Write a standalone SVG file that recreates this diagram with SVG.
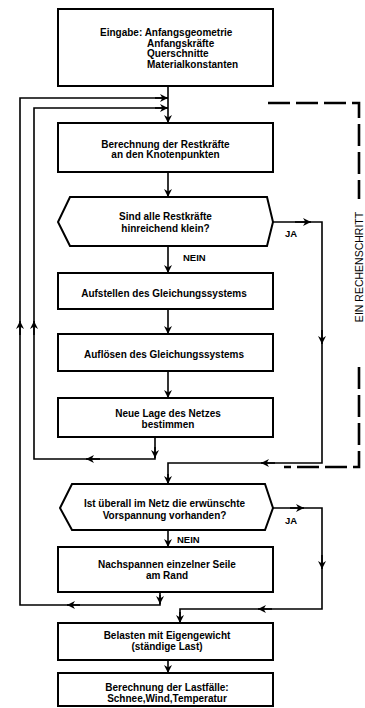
<svg xmlns="http://www.w3.org/2000/svg" width="365" height="708" viewBox="0 0 365 708">
<style>
.box{fill:#fff;stroke:#000;stroke-width:2}
.t{font-family:"Liberation Sans",Arial,sans-serif;font-size:10px;font-weight:bold;fill:#000;text-anchor:middle}
.tl{font-family:"Liberation Sans",Arial,sans-serif;font-size:10px;font-weight:bold;fill:#000}
.lbl{font-family:"Liberation Sans",Arial,sans-serif;font-size:9.5px;font-weight:bold;fill:#000}
.c{fill:none;stroke:#000;stroke-width:1.6}
.a{fill:none;stroke:#000;stroke-width:1.6;marker-end:url(#ah)}
.d{fill:none;stroke:#000;stroke-width:2.6;stroke-dasharray:22 6}
</style>
<defs>
<marker id="ah" markerUnits="userSpaceOnUse" viewBox="0 0 10 10" refX="10" refY="5" markerWidth="8" markerHeight="8" orient="auto">
<path d="M0,0 L10,5 L0,10 L3,5 z" fill="#000"/>
</marker>
</defs>
<rect width="365" height="708" fill="#fff"/>
<g id="connectors">
<path class="a" d="M168,86 V123"/>
<path class="c" d="M160,592 V605 H20 V98 H168"/>
<path class="a" d="M160,595 V604"/>
<path class="a" d="M80,605 H67"/>
<path class="a" d="M20,335 V321"/>
<path class="a" d="M155,98 H168"/>
<path class="c" d="M155,437 V459 H34 V108 H168"/>
<path class="a" d="M155,447 V458"/>
<path class="a" d="M100,459 H86"/>
<path class="a" d="M34,335 V321"/>
<path class="a" d="M155,108 H168"/>
<path class="a" d="M168,172 V197"/>
<path class="a" d="M168,246 V273"/>
<path class="a" d="M168,309 V334"/>
<path class="a" d="M168,371 V398"/>
<path class="c" d="M273,222 H322 V463 H168 V484"/>
<path class="a" d="M295,222 H311"/>
<path class="a" d="M322,330 V344"/>
<path class="a" d="M275,463 H261"/>
<path class="a" d="M168,474 V484"/>
<path class="a" d="M168,530 V547"/>
<path class="c" d="M273,508 H322 V609 H180 V623"/>
<path class="a" d="M290,508 H304"/>
<path class="a" d="M322,555 V569"/>
<path class="a" d="M272,609 H258"/>
<path class="a" d="M180,612 V623"/>
<path class="a" d="M168,660 V673"/>
</g>
<g id="dashed">
<path class="d" d="M268,103 H359 V199"/>
<path class="d" d="M359,367 V467 H284"/>
</g>
<g id="n1">
<rect class="box" x="58" y="9" width="215" height="77"/>
<text class="tl" x="100" y="36">Eingabe: Anfangsgeometrie</text>
<text class="tl" x="147" y="46.7">Anfangskräfte</text>
<text class="tl" x="147" y="57.3">Querschnitte</text>
<text class="tl" x="147" y="68">Materialkonstanten</text>
</g>
<g id="n2">
<rect class="box" x="58" y="123" width="215" height="49"/>
<text class="t" x="165.5" y="147.5">Berechnung der Restkräfte</text>
<text class="t" x="165.5" y="158">an den Knotenpunkten</text>
</g>
<g id="n3">
<polygon class="box" points="70,197 267,197 273,222 267,246 70,246 58,222"/>
<text class="t" x="165.5" y="220">Sind alle Restkräfte</text>
<text class="t" x="165.5" y="231.5">hinreichend klein?</text>
<text class="lbl" x="285" y="236.5">JA</text>
<text class="lbl" x="183" y="261">NEIN</text>
</g>
<g id="n4">
<rect class="box" x="58" y="273" width="215" height="36"/>
<text class="t" x="164" y="297">Aufstellen des Gleichungssystems</text>
</g>
<g id="n5">
<rect class="box" x="58" y="334" width="215" height="37"/>
<text class="t" x="164" y="358">Auflösen des Gleichungssystems</text>
</g>
<g id="n6">
<rect class="box" x="58" y="398" width="215" height="39"/>
<text class="t" x="168" y="417">Neue Lage des Netzes</text>
<text class="t" x="168" y="428">bestimmen</text>
</g>
<g id="n7">
<polygon class="box" points="72,484 265,484 273,508 265,530 72,530 60,508"/>
<text class="t" x="164.5" y="507">Ist überall im Netz die erwünschte</text>
<text class="t" x="164.5" y="518.5">Vorspannung vorhanden?</text>
<text class="lbl" x="285" y="523.5">JA</text>
<text class="lbl" x="177" y="543">NEIN</text>
</g>
<g id="n8">
<rect class="box" x="58" y="547" width="215" height="45"/>
<text class="t" x="167" y="567.5">Nachspannen einzelner Seile</text>
<text class="t" x="167" y="578.5">am Rand</text>
</g>
<g id="n9">
<rect class="box" x="58" y="623" width="215" height="37"/>
<text class="t" x="167" y="638.5">Belasten mit Eigengewicht</text>
<text class="t" x="167" y="649.5">(ständige Last)</text>
</g>
<g id="n10">
<rect class="box" x="58" y="673" width="215" height="33"/>
<text class="t" x="167" y="691">Berechnung der Lastfälle:</text>
<text class="t" x="167" y="702">Schnee,Wind,Temperatur</text>
</g>
<text font-family="Liberation Sans, Arial, sans-serif" font-size="10.5" text-anchor="middle" transform="translate(363,267) rotate(-90)">EIN RECHENSCHRITT</text>
</svg>
